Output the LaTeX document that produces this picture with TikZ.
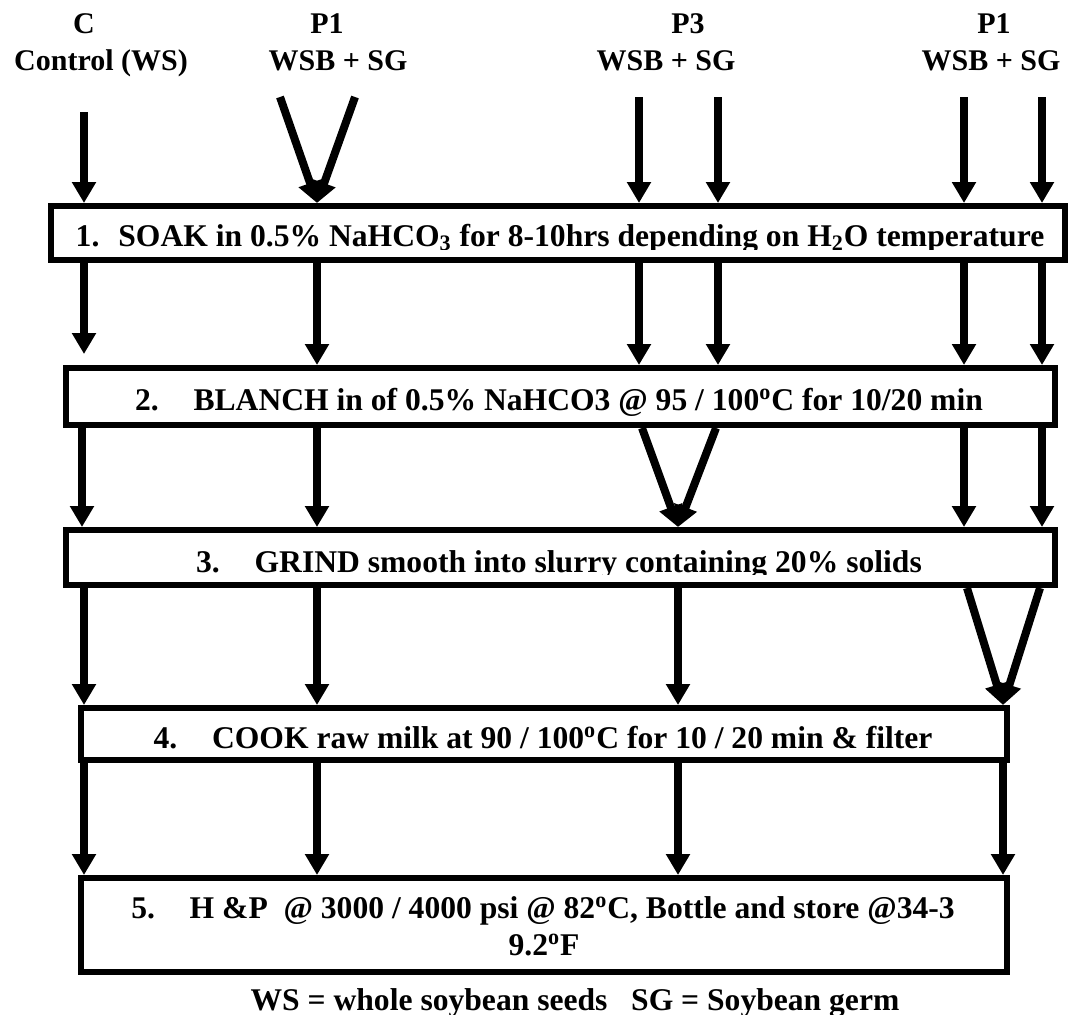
\documentclass[tikz,border=0pt]{standalone}
\usepackage{fontspec}
\setmainfont{Liberation Serif}
\usetikzlibrary{arrows.meta}
\begin{document}
\begin{tikzpicture}[x=0.5pt,y=-0.5pt,
  arr/.style={line width=4pt,-{Triangle[width=11.5pt,length=10.5pt]}},
  box/.style={draw,line width=3pt,inner sep=0pt},
  hdr/.style={font=\bfseries\fontsize{15}{18}\selectfont,anchor=base,inner sep=0pt},
  txt/.style={font=\bfseries\fontsize{15.8}{18.5}\selectfont,anchor=base,inner sep=0pt,align=center}]
\useasboundingbox (0,0) rectangle (1090,1014);
% headers
\node[hdr] (hC) at (84,33) {C};
\node[hdr] (hCw) at (101,70) {Control (WS)};
\node[hdr] (hP1) at (327,33) {P1};
\node[hdr] (hP1w) at (338,70) {WSB + SG};
\node[hdr] (hP3) at (688,33) {P3};
\node[hdr] (hP3w) at (666,70) {WSB + SG};
\node[hdr] (hP1r) at (994,33) {P1};
\node[hdr] (hP1rw) at (991,70) {WSB + SG};
% boxes
\node[box,minimum width=507pt,minimum height=27pt] (b1) at (558,233) {};
\node[box,minimum width=494.5pt,minimum height=28.5pt] (b2) at (560.5,396.5) {};
\node[box,minimum width=494.5pt,minimum height=27.5pt] (b3) at (560.5,557.5) {};
\node[box,minimum width=463pt,minimum height=26pt] (b4) at (544,734) {};
\node[box,minimum width=463pt,minimum height=47pt] (b5) at (544,925) {};
% box texts
\begin{scope}
\clip (54,210) rectangle (1062,249);
\node[txt] (t1) at (560,246) {1.\hspace{0.6em}SOAK in 0.5\% NaHCO\textsubscript{3} for 8-10hrs depending on H\textsubscript{2}O temperature};
\end{scope}
\node[txt] (t2) at (559,410) {2.\hspace{1.1em}BLANCH in of 0.5\% NaHCO3 @ 95 / 100\textsuperscript{o}C for 10/20 min};
\begin{scope}
\clip (70,535) rectangle (1050,574);
\node[txt] (t3) at (559,572) {3.\hspace{1.1em}GRIND smooth into slurry containing 20\% solids};
\end{scope}
\node[txt] (t4) at (543,748) {4.\hspace{1.1em}COOK raw milk at 90 / 100\textsuperscript{o}C for 10 / 20 min \& filter};
\node[txt] (t5) at (543,918) {5.\hspace{1.1em}H \&P\ \ @ 3000 / 4000 psi @ 82\textsuperscript{o}C, Bottle and store @34-3};
\node[txt] (t5b) at (544,955) {9.2\textsuperscript{o}F};
\node[txt] (foot) at (575,1010) {WS = whole soybean seeds\ \ \ SG = Soybean germ};
% start points of top arrows
\coordinate (sC) at (84,112);
\coordinate (sP1a) at (280,97);
\coordinate (sP1b) at (355,97);
\coordinate (sP3a) at (639,97);
\coordinate (sP3b) at (718,97);
\coordinate (sRa) at (964,97);
\coordinate (sRb) at (1042,97);
% into box 1
\draw[arr] (sC) -- (sC |- b1.north);
\draw[arr] (sP1a) -- (317,0 |- b1.north);
\draw[arr] (sP1b) -- (317,0 |- b1.north);
\draw[arr] (sP3a) -- (sP3a |- b1.north);
\draw[arr] (sP3b) -- (sP3b |- b1.north);
\draw[arr] (sRa) -- (sRa |- b1.north);
\draw[arr] (sRb) -- (sRb |- b1.north);
% box1 -> box2
\draw[arr,shorten >=5.5pt] (84,0 |- b1.south) -- (84,0 |- b2.north);
\draw[arr] (317,0 |- b1.south) -- (317,0 |- b2.north);
\draw[arr] (639,0 |- b1.south) -- (639,0 |- b2.north);
\draw[arr] (718,0 |- b1.south) -- (718,0 |- b2.north);
\draw[arr] (964,0 |- b1.south) -- (964,0 |- b2.north);
\draw[arr] (1042,0 |- b1.south) -- (1042,0 |- b2.north);
% box2 -> box3
\draw[arr] (82,0 |- b2.south) -- (82,0 |- b3.north);
\draw[arr] (317,0 |- b2.south) -- (317,0 |- b3.north);
\draw[arr] (642,0 |- b2.south) -- (678,0 |- b3.north);
\draw[arr] (716,0 |- b2.south) -- (678,0 |- b3.north);
\draw[arr] (964,0 |- b2.south) -- (964,0 |- b3.north);
\draw[arr] (1042,0 |- b2.south) -- (1042,0 |- b3.north);
% box3 -> box4
\draw[arr] (84,0 |- b3.south) -- (84,0 |- b4.north);
\draw[arr] (317,0 |- b3.south) -- (317,0 |- b4.north);
\draw[arr] (678,0 |- b3.south) -- (678,0 |- b4.north);
\draw[arr] (967,0 |- b3.south) -- (1003,0 |- b4.north);
\draw[arr] (1040,0 |- b3.south) -- (1003,0 |- b4.north);
% box4 -> box5
\draw[arr] (84,0 |- b4.south) -- (84,0 |- b5.north);
\draw[arr] (317,0 |- b4.south) -- (317,0 |- b5.north);
\draw[arr] (678,0 |- b4.south) -- (678,0 |- b5.north);
\draw[arr] (1003,0 |- b4.south) -- (1003,0 |- b5.north);
\end{tikzpicture}
\end{document}
